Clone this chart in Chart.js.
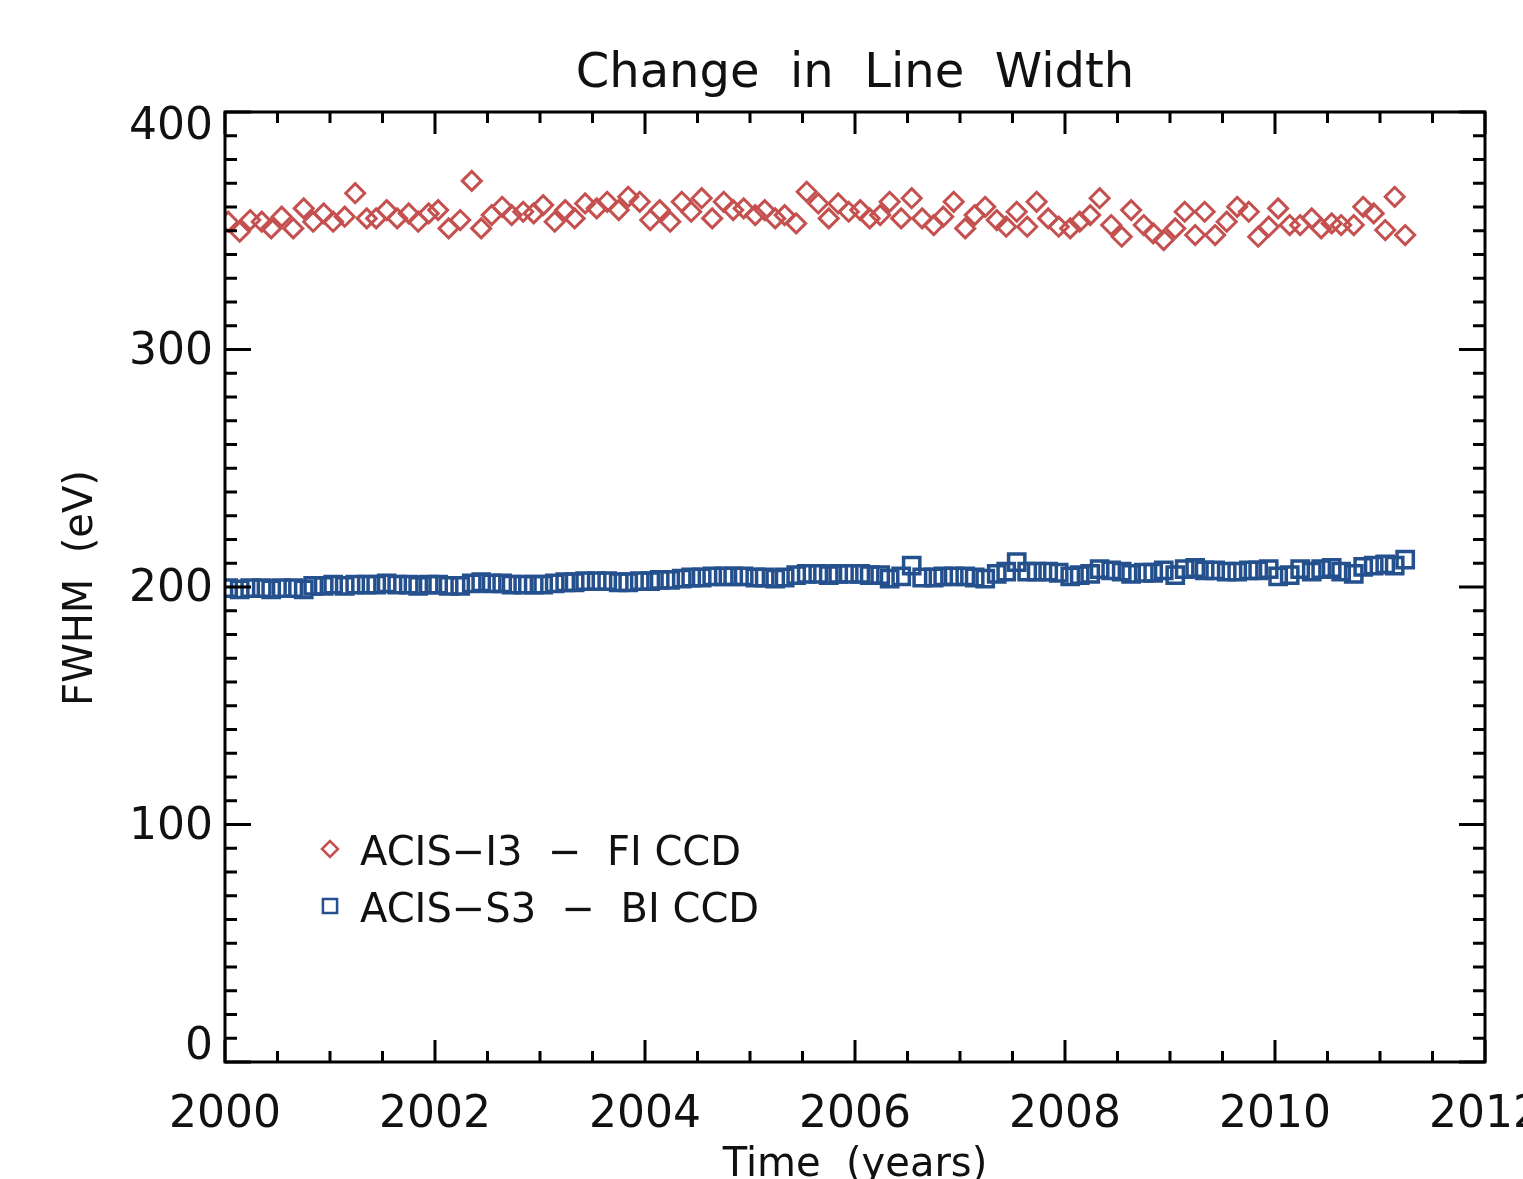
<!DOCTYPE html>
<html>
<head>
<meta charset="utf-8">
<title>Change in Line Width</title>
<script src="https://cdn.jsdelivr.net/npm/chart.js@4.4.1/dist/chart.umd.min.js"></script>
<style>
  html, body { margin: 0; padding: 0; background: #fff; }
  #wrap { width: 1523px; height: 1179px; overflow: hidden; }
</style>
</head>
<body>
<div id="wrap"><canvas id="grafico" width="1523" height="1179"></canvas></div>
<script>
// fechas de observacion (años decimales)
const times = [
    2000.03, 2000.14, 2000.24, 2000.35, 2000.44, 2000.54, 2000.65, 2000.75, 2000.84, 2000.94,
    2001.03, 2001.14, 2001.24, 2001.35, 2001.44, 2001.54, 2001.64, 2001.75, 2001.84, 2001.94,
    2002.03, 2002.13, 2002.24, 2002.35, 2002.44, 2002.54, 2002.64, 2002.73, 2002.84, 2002.94,
    2003.03, 2003.14, 2003.24, 2003.33, 2003.43, 2003.54, 2003.64, 2003.75, 2003.84, 2003.95,
    2004.05, 2004.14, 2004.24, 2004.35, 2004.44, 2004.54, 2004.64, 2004.75, 2004.84, 2004.94,
    2005.05, 2005.14, 2005.24, 2005.33, 2005.44, 2005.54, 2005.65, 2005.75, 2005.84, 2005.94,
    2006.05, 2006.14, 2006.24, 2006.33, 2006.44, 2006.54, 2006.64, 2006.75, 2006.84, 2006.94,
    2007.05, 2007.14, 2007.24, 2007.35, 2007.44, 2007.54, 2007.64, 2007.73, 2007.84, 2007.94,
    2008.05, 2008.14, 2008.24, 2008.33, 2008.44, 2008.54, 2008.63, 2008.75, 2008.84, 2008.94,
    2009.05, 2009.14, 2009.24, 2009.33, 2009.43, 2009.54, 2009.64, 2009.75, 2009.84, 2009.94,
    2010.03, 2010.14, 2010.24, 2010.35, 2010.44, 2010.54, 2010.63, 2010.75, 2010.84, 2010.94,
    2011.05, 2011.14, 2011.24
];

// ACIS-I3 (FI CCD), FWHM en eV
const fwhmI3 = [
    353.8, 349.6, 354.5, 353.8, 351, 355.9, 351, 359.4, 353.8, 357.3,
    353.8, 355.9, 365.8, 355.2, 355.2, 358.7, 355.2, 357.3, 353.8, 357.3,
    358.7, 351, 354.5, 371, 351, 356.6, 360.1, 356.6, 358, 357.3,
    360.8, 353.8, 358.7, 355.2, 361.5, 359.4, 362.2, 358.7, 364.3, 362.2,
    354.5, 358.7, 353.8, 362.2, 358, 363.7, 355.2, 362.2, 358.7, 359.4,
    356.6, 358.7, 355.2, 356.6, 353.1, 366.4, 361.5, 355.2, 361.5, 358,
    358.7, 355.2, 356.6, 362.2, 355.2, 363.7, 355.2, 352.4, 355.9, 362.2,
    351, 356.6, 360.1, 354.5, 351.7, 358, 351.7, 362.2, 355.2, 351.7,
    351, 353.8, 356.6, 363.7, 352.4, 347.5, 358.7, 352.4, 348.9, 346.1,
    351, 358, 348.2, 358, 348.2, 353.8, 360.1, 358, 347.5, 351.7,
    359.4, 352.4, 352.4, 355.2, 351, 353.1, 352.4, 352.4, 360.1, 357.3,
    350.3, 364.3, 348.2
];

// ACIS-S3 (BI CCD), FWHM en eV
const fwhmS3 = [
    199.5, 199, 199.5, 199.5, 199, 199.5, 199.5, 199, 200.5, 200.5,
    201, 200.5, 201, 201, 201, 201.5, 201, 201, 200.5, 201,
    201, 200.5, 200.5, 201.5, 202, 201.5, 201.5, 201, 201, 201,
    201, 201.5, 202, 202, 202.5, 202.5, 202.5, 202, 202, 202.5,
    202.5, 203, 203, 203.5, 204, 204, 204.5, 204.5, 204.5, 204.5,
    204, 204, 203.5, 204, 205, 205.5, 205.5, 205, 205.5, 205.5,
    205.5, 205, 205, 203.5, 204.5, 209, 204, 204, 204.5, 204.5,
    204.5, 204, 203.5, 205.5, 206.5, 210.5, 206.5, 206.5, 206.5, 206,
    204.5, 205, 205.5, 207.5, 207, 206.5, 205.5, 206, 206, 207,
    205, 207.5, 208, 207, 207, 206.5, 206.5, 207, 207, 207.5,
    204.5, 205, 207.5, 206.5, 207.5, 208, 206.5, 205.5, 208.5, 209,
    209.5, 209, 211.5
];

const seriesNames = ['ACIS\u2212I3  \u2212  FI CCD', 'ACIS\u2212S3  \u2212  BI CCD'];
const xTicks = [2000, 2002, 2004, 2006, 2008, 2010, 2012];
const yTicks = [0, 100, 200, 300, 400];

const FONT = '"DejaVu Sans", "Liberation Sans", sans-serif';
const RED = '#c4504f';
const BLUE = '#24508e';

// ejes estilo IDL: caja, marcas hacia dentro, etiquetas
const idlAxes = {
    id: 'idlAxes',
    afterDraw(chart) {
        const ctx = chart.ctx;
        const a = chart.chartArea;
        const xs = chart.scales.x;
        const ys = chart.scales.y;
        ctx.save();
        ctx.strokeStyle = '#000';
        ctx.lineWidth = 3;
        ctx.strokeRect(a.left, a.top, a.right - a.left, a.bottom - a.top);

        ctx.beginPath();
        for (let v = 2000; v <= 2012.001; v += 0.5) {
            const px = xs.getPixelForValue(v);
            const major = Math.abs(v % 2) < 0.001;
            const len = major ? 22 : 11;
            ctx.moveTo(px, a.bottom); ctx.lineTo(px, a.bottom - len);
            ctx.moveTo(px, a.top); ctx.lineTo(px, a.top + len);
        }
        for (let v = 0; v <= 400; v += 10) {
            const py = ys.getPixelForValue(v);
            const major = v % 100 === 0;
            const len = major ? 26 : 12;
            ctx.moveTo(a.left, py); ctx.lineTo(a.left + len, py);
            ctx.moveTo(a.right, py); ctx.lineTo(a.right - len, py);
        }
        ctx.stroke();

        ctx.fillStyle = '#111';
        ctx.font = '44px ' + FONT;
        ctx.textAlign = 'center';
        ctx.textBaseline = 'alphabetic';
        xTicks.forEach(function(t) {
            ctx.fillText(String(t), xs.getPixelForValue(t), 1127);
        });
        ctx.textAlign = 'right';
        ctx.textBaseline = 'middle';
        yTicks.forEach(function(t) {
            let py = ys.getPixelForValue(t) + 3;
            py = Math.max(a.top + 16, Math.min(a.bottom - 14, py));
            ctx.fillText(String(t), a.left - 12, py);
        });

        // titulo y etiquetas de los ejes
        ctx.textAlign = 'center';
        ctx.textBaseline = 'alphabetic';
        ctx.font = '48px ' + FONT;
        ctx.fillText('Change  in  Line  Width', (a.left + a.right) / 2, 87);
        ctx.font = '40px ' + FONT;
        ctx.fillText('Time  (years)', (a.left + a.right) / 2, 1176);
        ctx.save();
        ctx.translate(92, 588);
        ctx.rotate(-Math.PI / 2);
        ctx.fillText('FWHM  (eV)', 0, 0);
        ctx.restore();

        // leyenda dentro del area
        ctx.font = '40px ' + FONT;
        ctx.textAlign = 'left';
        chart.data.datasets.forEach(function(ds, i) {
            const ly = 853 + i * 57;
            ctx.lineWidth = 2.5;
            ctx.strokeStyle = ds.borderColor;
            ctx.fillStyle = 'rgba(0,0,0,0)';
            Chart.helpers.drawPoint(ctx, {
                pointStyle: ds.pointStyle,
                radius: ds.pointStyle === 'rect' ? 10 : 8,
                rotation: 0,
                borderWidth: 2.5
            }, 330, ly - 4);
            ctx.fillStyle = '#111';
            ctx.textBaseline = 'middle';
            ctx.fillText(ds.label, 360, ly + 2);
        });
        ctx.restore();
    }
};

const ctx = document.getElementById('grafico').getContext('2d');
const chart = new Chart(ctx, {
    type: 'scatter',
    data: {
        datasets: [{
            label: seriesNames[0],
            data: times.map((t, i) => ({ x: t, y: fwhmI3[i] })),
            pointStyle: 'rectRot',
            pointRadius: 9.5,
            borderColor: RED,
            backgroundColor: 'rgba(0,0,0,0)',
            pointBorderWidth: 3
        }, {
            label: seriesNames[1],
            data: times.map((t, i) => ({ x: t, y: fwhmS3[i] })),
            pointStyle: 'rect',
            pointRadius: 11.5,
            borderColor: BLUE,
            backgroundColor: 'rgba(0,0,0,0)',
            pointBorderWidth: 3.5
        }]
    },
    options: {
        responsive: false,
        animation: false,
        layout: { padding: { left: 225, right: 38, top: 112, bottom: 117 } },
        plugins: {
            legend: { display: false },
            title: { display: false },
            tooltip: { enabled: false }
        },
        scales: {
            x: { type: 'linear', min: 2000, max: 2012, display: false },
            y: { type: 'linear', min: 0, max: 400, display: false }
        }
    },
    plugins: [idlAxes]
});
</script>
</body>
</html>
